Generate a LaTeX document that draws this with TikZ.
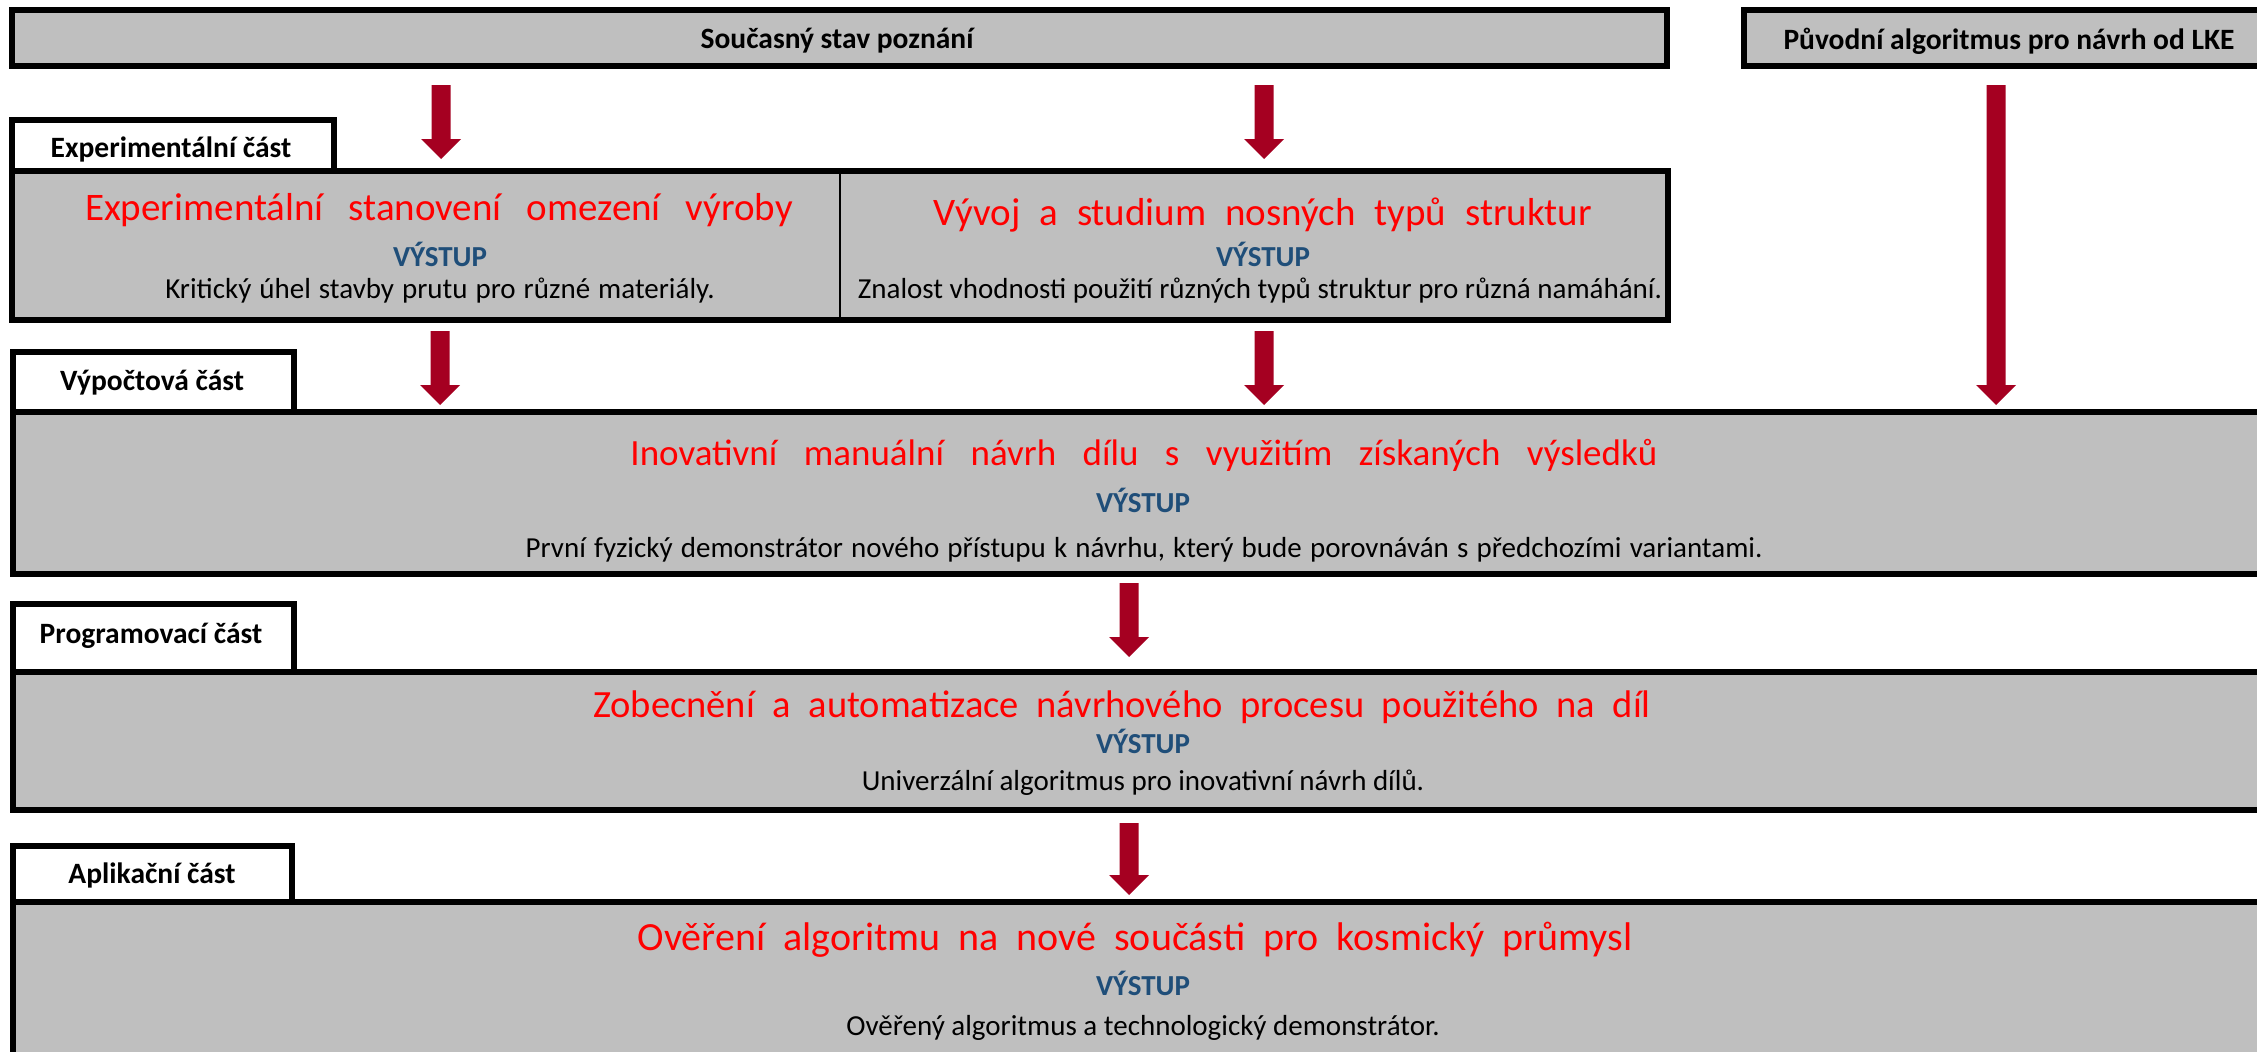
\documentclass[tikz,border=0pt]{standalone}
\usepackage{fontspec}
\setmainfont{Carlito}
\usetikzlibrary{calc}
\definecolor{boxgray}{HTML}{BFBFBF}
\definecolor{titlered}{HTML}{FF0000}
\definecolor{outblue}{HTML}{1F4E79}
\definecolor{arrred}{HTML}{A50021}
\tikzset{
  box/.style={draw=black, line width=6pt, fill=boxgray, inner sep=0pt, outer sep=0pt, anchor=north west},
  lbl/.style={draw=black, line width=6pt, fill=white, inner sep=0pt, outer sep=0pt, anchor=north west},
  txt/.style={inner sep=0pt, anchor=base},
  ttl/.style 2 args={txt, text=titlered, font={\fontsize{#1}{#1}\selectfont\spaceskip=#2pt\relax}},
  outp/.style={txt, text=outblue, font=\bfseries\fontsize{29}{30}\selectfont},
  desc/.style={txt, text=black, font=\fontsize{29}{30}\selectfont},
  descw/.style={txt, text=black, font={\fontsize{29}{30}\selectfont\spaceskip=#1pt\relax}},
  head/.style={txt, text=black, font=\bfseries\fontsize{29.5}{30}\selectfont},
  blockarrow/.style={fill=arrred, draw=none}
}
\newcommand\fatarrow[2]{\fill[blockarrow] ($(#1)+(-9.5,0)$) -- ($(#2)+(-9.5,-20)$) -- ($(#2)+(-20,-20)$) -- (#2) -- ($(#2)+(20,-20)$) -- ($(#2)+(9.5,-20)$) -- ($(#1)+(9.5,0)$) -- cycle;}
\begin{document}
\begin{tikzpicture}[x=1pt, y=-1pt]
\useasboundingbox (0,0) rectangle (2257,1052);
\clip (0,0) rectangle (2257,1052);
\fill[white] (0,0) rectangle (2257,1052);

% top boxes
\node[box, minimum width=1655pt, minimum height=56pt] (stav) at (12,10) {};
\node[head] (stavt) at (837,48) {Současný stav poznání};
\node[box, minimum width=600pt, minimum height=56pt] (lke) at (1744,10) {};
\node[head] (lket) at (2009,49) {Původní algoritmus pro návrh od LKE};

% experimental part
\node[box, minimum width=1656pt, minimum height=149pt] (exp) at (12,171) {};
\draw[line width=2pt] (840,174) -- (840,317);
\node[lbl, minimum width=322pt, minimum height=51pt] (explbl) at (12,120) {};
\node[head] (explblt) at (171,157) {Experimentální část};
\node[ttl={39}{25}] (e1t) at (439,220) {Experimentální stanovení omezení výroby};
\node[outp] (e1o) at (440,266) {VÝSTUP};
\node[descw=8] (e1d) at (440,298) {Kritický úhel stavby prutu pro různé materiály.};
\node[ttl={39}{19}] (e2t) at (1263,225) {Vývoj a studium nosných typů struktur};
\node[outp] (e2o) at (1263,266) {VÝSTUP};
\node[desc] (e2d) at (1260,298) {Znalost vhodnosti použití různých typů struktur pro různá namáhání.};

% computational part
\node[box, minimum width=2300pt, minimum height=162pt] (vyp) at (13,412) {};
\node[lbl, minimum width=281pt, minimum height=60pt] (vyplbl) at (13,352) {};
\node[head] (vyplblt) at (152,390) {Výpočtová část};
\node[ttl={37}{26.5}] (vt) at (1144,465) {Inovativní manuální návrh dílu s využitím získaných výsledků};
\node[outp] (vo) at (1143,512) {VÝSTUP};
\node[descw=8.2] (vd) at (1144,557) {První fyzický demonstrátor nového přístupu k návrhu, který bude porovnáván s předchozími variantami.};

% programming part
\node[box, minimum width=2300pt, minimum height=138pt] (prg) at (13,672) {};
\node[lbl, minimum width=281pt, minimum height=68pt] (prglbl) at (13,604) {};
\node[head] (prglblt) at (151,643) {Programovací část};
\node[ttl={38.5}{17.7}] (pt) at (1122,717) {Zobecnění a automatizace návrhového procesu použitého na díl};
\node[outp] (po) at (1143,753) {VÝSTUP};
\node[desc] (pd) at (1143,790) {Univerzální algoritmus pro inovativní návrh dílů.};

% application part
\node[box, minimum width=2300pt, minimum height=200pt] (apl) at (13,902) {};
\node[lbl, minimum width=279pt, minimum height=56pt] (apllbl) at (13,846) {};
\node[head] (apllblt) at (152,883) {Aplikační část};
\node[ttl={40}{18}] (at) at (1135,950) {Ověření algoritmu na nové součásti pro kosmický průmysl};
\node[outp] (ao) at (1143,995) {VÝSTUP};
\node[desc] (ad) at (1143,1035) {Ověřený algoritmus a technologický demonstrátor.};

% arrows
\coordinate (a1s) at (441,85);  \coordinate (a1e) at (441,159);
\coordinate (a2s) at (1264,85); \coordinate (a2e) at (1264,159);
\coordinate (a3s) at (1996,85); \coordinate (a3e) at (1996,405);
\coordinate (a4s) at (440,331); \coordinate (a4e) at (440,405);
\coordinate (a5s) at (1264,331); \coordinate (a5e) at (1264,405);
\coordinate (a6s) at (1129,583); \coordinate (a6e) at (1129,657);
\coordinate (a7s) at (1129,823); \coordinate (a7e) at (1129,895);
\fatarrow{a1s}{a1e}
\fatarrow{a2s}{a2e}
\fatarrow{a3s}{a3e}
\fatarrow{a4s}{a4e}
\fatarrow{a5s}{a5e}
\fatarrow{a6s}{a6e}
\fatarrow{a7s}{a7e}
\end{tikzpicture}
\end{document}
